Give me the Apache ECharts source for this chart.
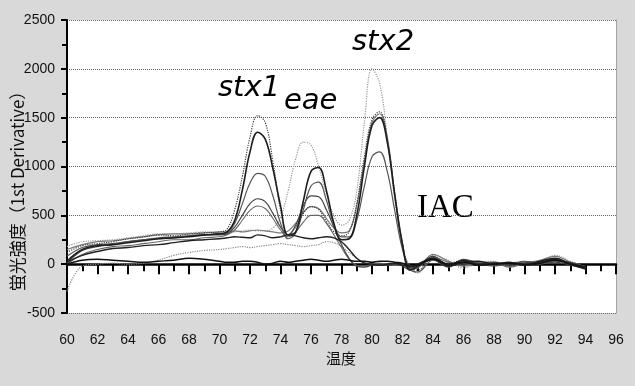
<!DOCTYPE html>
<html>
<head>
<meta charset="utf-8">
<script src="https://cdn.jsdelivr.net/npm/echarts@6/dist/echarts.min.js"></script>
<style>
  html, body { margin: 0; padding: 0; background: #d9d9d9; }
  #chart { width: 635px; height: 386px; }
</style>
</head>
<body>
<div id="chart"></div>
<script>
// Melt curve: first derivative of fluorescence vs. temperature
const temps = [60,61,62,63,64,65,66,67,68,69,70,
  70.5,71,71.5,72,72.5,73,73.5,74,74.5,75,75.5,76,76.5,77,77.5,78,78.5,79,79.5,80,80.5,81,81.5,82,82.5,83,
  84,85,86,87,88,89,90,91,92,93,94];

const curveA = [120,190,210,230,260,280,300,290,310,320,330,
  360,560,900,1300,1520,1450,1050,560,300,380,520,590,560,440,330,290,330,620,1100,1480,1560,1280,700,200,-40,-60,
  60,10,40,0,20,-10,10,20,40,10,-40];
const curveB = [30,150,190,200,220,240,260,270,280,300,310,
  330,450,760,1150,1350,1280,980,600,300,330,650,950,990,760,420,250,260,500,1000,1420,1500,1250,700,200,-60,-20,
  50,-20,20,30,0,20,-10,30,60,0,-50];
const curveC = [80,170,200,210,230,250,270,280,290,300,310,
  320,420,620,830,930,900,700,420,260,320,560,800,840,660,400,280,280,450,800,1100,1150,950,540,150,-50,-80,
  40,-30,50,10,-20,10,20,0,30,20,-30];
const curveD = [10,140,180,200,230,250,260,270,290,300,300,
  310,380,500,620,670,640,520,380,300,400,600,700,690,560,380,200,60,-20,-30,-10,0,-10,0,-20,-60,-30,
  80,0,30,-10,10,0,30,10,20,-10,-40];
const curveE = [0,100,150,180,190,210,230,250,250,270,280,
  300,350,450,550,595,570,470,350,280,330,430,500,500,420,300,170,50,-10,-20,0,10,0,-10,-10,-40,-20,
  70,20,-10,20,0,-20,10,30,50,0,-40];
const curveF = [180,230,240,250,270,290,310,310,320,330,320,
  320,330,340,350,340,340,370,480,750,1080,1250,1220,1000,720,500,400,450,750,1450,2000,1850,1300,650,180,-30,-90,
  90,40,-40,20,30,-30,0,20,90,30,-30];
const curveG = [150,200,230,240,260,280,300,310,310,320,330,
  330,340,330,340,350,340,330,320,340,420,530,590,570,470,370,320,340,600,1050,1450,1540,1300,720,220,-50,-40,
  100,30,-20,10,20,-30,10,40,80,20,-50];
const curveH = [20,90,130,160,170,190,200,220,240,250,260,
  270,280,275,270,300,290,270,280,300,290,270,260,270,280,270,230,150,60,10,0,-10,0,10,-10,-30,0,
  60,-10,40,0,10,10,-10,20,50,10,-30];
const curveI = [-280,-20,0,10,0,10,40,90,120,140,150,
  160,170,180,170,180,190,200,210,200,190,180,190,200,230,220,180,120,60,20,0,10,0,-10,0,-30,-20,
  50,0,20,10,-10,0,20,10,30,0,-30];
const curveJ = [0,40,50,40,30,20,30,40,60,50,30,
  20,20,30,30,20,0,10,30,20,30,40,50,40,30,40,50,40,30,30,20,30,30,20,10,-20,-10,
  50,0,20,-10,0,10,0,10,40,0,-30];

const yTicks = { min: -500, max: 2500, step: 500 };
const xTicks = { min: 60, max: 96, step: 2 };

const curves = [
  { data: curveF, color: '#9a9a9a', width: 1.2, type: 'dotted' },
  { data: curveI, color: '#8a8a8a', width: 1.2, type: 'dotted' },
  { data: curveG, color: '#7a7a7a', width: 1.2, type: 'solid' },
  { data: curveE, color: '#666666', width: 1.1, type: 'solid' },
  { data: curveD, color: '#444444', width: 1.2, type: 'solid' },
  { data: curveC, color: '#555555', width: 1.2, type: 'solid' },
  { data: curveA, color: '#3c3c3c', width: 1.2, type: 'dotted' },
  { data: curveB, color: '#1e1e1e', width: 1.6, type: 'solid' },
  { data: curveH, color: '#222222', width: 1.4, type: 'solid' },
  { data: curveJ, color: '#111111', width: 1.4, type: 'solid' }
];

const labelFont = '"Liberation Sans", Arial, sans-serif';

const chart = echarts.init(document.getElementById('chart'), null, { renderer: 'canvas' });

chart.setOption({
  backgroundColor: '#d9d9d9',
  animation: false,
  grid: { left: 67, right: 19, top: 20, bottom: 73, show: true, backgroundColor: '#ffffff', borderWidth: 0 },
  xAxis: {
    type: 'value', min: xTicks.min, max: xTicks.max, interval: xTicks.step,
    axisLine: { lineStyle: { color: '#000', width: 2.5 } },
    axisTick: { length: 10, lineStyle: { color: '#000', width: 2 } },
    minorTick: { show: true, splitNumber: 2, length: 7, lineStyle: { color: '#000', width: 2 } },
    splitLine: { show: false },
    axisLabel: { margin: 20, color: '#111', fontSize: 14, fontFamily: labelFont, formatter: v => String(v) }
  },
  yAxis: [
    {
      type: 'value', min: yTicks.min, max: yTicks.max, interval: yTicks.step,
      axisLine: { show: true, lineStyle: { color: '#000', width: 2 } },
      axisTick: { show: true, length: 6, lineStyle: { color: '#000', width: 2 } },
      minorTick: { show: true, splitNumber: 2, length: 5, lineStyle: { color: '#000', width: 2 } },
      splitLine: { lineStyle: { type: 'dotted', color: '#666', width: 1 } },
      axisLabel: { margin: 12, color: '#111', fontSize: 14, fontFamily: labelFont, formatter: v => String(v) }
    },
    {
      type: 'value', position: 'right', min: yTicks.min, max: yTicks.max, interval: yTicks.step,
      axisLine: { show: true, lineStyle: { color: '#999', width: 1, type: 'dotted' } },
      axisTick: { show: false }, axisLabel: { show: false }, splitLine: { show: false }
    }
  ],
  series: curves.map(c => ({
    type: 'line',
    data: temps.map((t, i) => [t, c.data[i]]),
    smooth: 0.4,
    showSymbol: false,
    silent: true,
    lineStyle: { color: c.color, width: c.width, type: c.type }
  })),
  graphic: [
    { type: 'text', left: 218, top: 74, style: { text: 'stx1', font: 'italic 29px "DejaVu Sans"', fill: '#000' } },
    { type: 'text', left: 284, top: 87, style: { text: 'eae', font: 'italic 29px "DejaVu Sans"', fill: '#000' } },
    { type: 'text', left: 352, top: 28, style: { text: 'stx2', font: 'italic 29px "DejaVu Sans"', fill: '#000' } },
    { type: 'text', left: 417, top: 192, style: { text: 'IAC', font: '33px "Liberation Serif"', fill: '#000' } },
    { type: 'text', x: 18, y: 187, rotation: Math.PI / 2,
      style: { text: '蛍光強度（1st Derivative）', font: '17px "Noto Sans CJK JP"', fill: '#111', align: 'center', verticalAlign: 'middle' } },
    { type: 'text', x: 341, y: 358,
      style: { text: '温度', font: '15px "Noto Sans CJK JP"', fill: '#111', align: 'center', verticalAlign: 'middle' } }
  ]
});
</script>
</body>
</html>
